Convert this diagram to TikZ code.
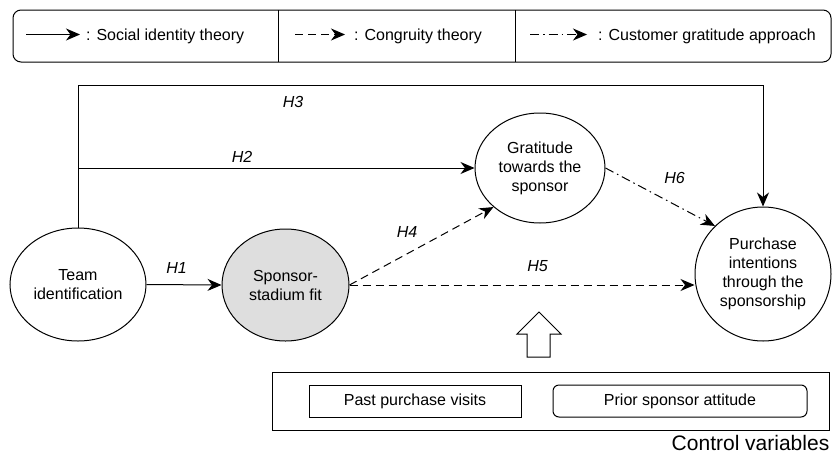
\documentclass[tikz,border=0pt]{standalone}
\usepackage{fontspec}
\setmainfont{Liberation Sans}
\usetikzlibrary{shapes.geometric}
\usetikzlibrary{arrows.meta}
\usetikzlibrary{positioning}
\usetikzlibrary{calc}

\begin{document}
\begin{tikzpicture}[x=1pt,y=-1pt,font=\fontsize{16}{19}\selectfont,
    construct/.style={ellipse,draw,line width=1pt,inner sep=0pt,align=center},
    sid/.style={line width=1pt,-{Stealth[length=14pt,width=12pt,inset=4.5pt]}},
    cong/.style={sid,dash pattern=on 8pt off 5pt},
    cga/.style={sid,dash pattern=on 9pt off 4pt on 1.5pt off 4pt},
    hyp/.style={font=\fontsize{16}{19}\selectfont\itshape,inner sep=0pt},
    legtext/.style={anchor=base west,inner sep=0pt},
    ctrlbox/.style={draw,line width=1pt,minimum height=32pt,inner sep=0pt}]
  \useasboundingbox (0,0) rectangle (832,458);

  \node (legend) [draw,line width=1pt,rounded corners=8pt,minimum width=818pt,minimum height=52pt] at (422,36) {};
  \foreach \x in {278,515}
    \draw[line width=1pt] (\x,10) -- (\x,62);
  \coordinate (sid0) at (26,34.5);
  \coordinate (cong0) at (295,34.5);
  \coordinate (cga0) at (530,34.5);
  \node (sidtxt) [legtext] at (86,40) {: Social identity theory};
  \node (congtxt) [legtext] at (354,40) {: Congruity theory};
  \node (cgatxt) [legtext] at (598,40) {: Customer gratitude approach};
  \draw[sid] (sid0) -- (sid0 -| sidtxt.west) [shorten >=6pt];
  \draw[cong] (cong0) -- (cong0 -| congtxt.west) [shorten >=9pt];
  \draw[cga] (cga0) -- (cga0 -| cgatxt.west) [shorten >=11pt];

  \node (team) [construct,minimum width=136pt,minimum height=113pt] at (78,284.5) {Team\\identification};
  \node (fit) [construct,fill=black!13,minimum width=127pt,minimum height=112pt] at (285.5,285) {Sponsor-\\stadium fit};
  \node (grat) [construct,minimum width=130pt,minimum height=110pt] at (540,168) {Gratitude\\towards the\\sponsor};
  \node (purch) [construct,minimum width=136pt,minimum height=134pt] at (763,274) {Purchase\\intentions\\through the\\sponsorship};

  \draw[sid] (team.east) -- node[hyp,pos=.4,above=11pt] (h1) {H1} (fit.west);
  \draw[sid] (team.north) |- node[hyp,pos=.707,above=5pt] (h2) {H2} (grat);
  \draw[sid] (team.north) -- ++(0,-142) -| node[hyp,pos=.157,below=10pt] (h3) {H3} (purch);
  \draw[cong] (fit.east) -- node[hyp,pos=.4,above=16pt] (h4) {H4} (grat.220);
  \draw[cong] (fit.east) -- node[hyp,pos=.545,above=13pt] (h5) {H5} (fit.east -| purch.west);
  \draw[cga] (grat.east) -- node[hyp,pos=.53,xshift=11pt,yshift=21pt] (h6) {H6} (purch.135);

  \draw[line width=1pt] (527,357) -- (527,334) -- (517,334) -- (539,312) -- (561,334) -- (550,334) -- (550,357) -- cycle;

  \node (ctrl) [draw,line width=1pt,minimum width=557pt,minimum height=58pt] at (550.5,401) {};
  \node (past) [ctrlbox,minimum width=212pt] at (415,401) {Past purchase visits};
  \node (prior) [ctrlbox,rounded corners=6pt,minimum width=254pt] at (680,401) {Prior sponsor attitude};
  \node (ctrllab) [anchor=north east,inner sep=0pt,font=\fontsize{21}{25}\selectfont] at ([yshift=-5pt]ctrl.south east) {Control variables};
\end{tikzpicture}
\end{document}
